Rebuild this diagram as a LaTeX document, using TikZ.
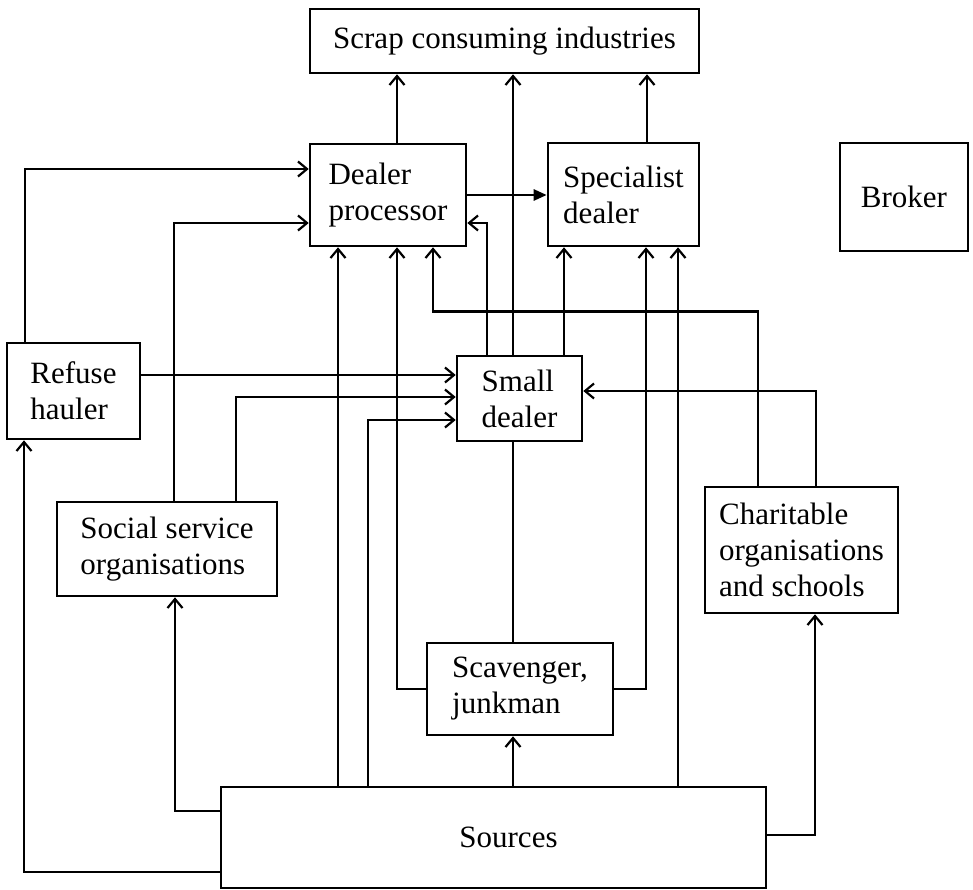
\documentclass[tikz,border=0pt]{standalone}
\usepackage{fontspec}
\setmainfont{Liberation Serif}
\usetikzlibrary{arrows.meta}
\begin{document}
\begin{tikzpicture}[x=1pt,y=-1pt,
  line width=2.6pt,
  box/.style={draw, rectangle, inner sep=0pt, align=left,
    font=\fontsize{31}{36}\selectfont},
  arr/.style={-{Straight Barb[length=9pt,width=15pt,line width=2.2pt]}},
  farr/.style={-{Triangle[length=13pt,width=11pt]}}]
\useasboundingbox (0,0) rectangle (973,890);

% boxes
\node[box, minimum width=389pt, minimum height=64pt] (scrap) at (504.5,41) {Scrap consuming industries};
\node[box, minimum width=156pt, minimum height=102pt] (dealer) at (388,195) {Dealer\\processor};
\node[box, minimum width=151pt, minimum height=103pt] (spec) at (623.5,194.5) {Specialist\\dealer};
\node[box, minimum width=128pt, minimum height=108pt] (broker) at (904,197) {Broker};
\node[box, minimum width=133pt, minimum height=96pt] (refuse) at (73.5,391) {Refuse\\hauler};
\node[box, minimum width=125pt, minimum height=85pt] (small) at (519.5,398.5) {Small\\dealer};
\node[box, minimum width=220pt, minimum height=94pt] (social) at (167,549) {Social service\\organisations};
\node[box, minimum width=193pt, minimum height=126pt] (charit) at (801.5,550) {Charitable\\organisations\\and schools};
\node[box, minimum width=186pt, minimum height=92pt] (scav) at (520,689) {Scavenger,\\junkman};
\node[box, minimum width=545pt, minimum height=101pt] (sources) at (493.5,837.5) {\hspace*{30pt}Sources};

% into scrap consuming industries
\draw[arr] ([xshift=9pt]dealer.north) -- ([xshift=9pt]dealer.north |- scrap.south);
\draw[arr] ([xshift=-6.5pt]small.north) -- ([xshift=-6.5pt]small.north |- scrap.south);
\draw[arr] ([xshift=23.5pt]spec.north) -- ([xshift=23.5pt]spec.north |- scrap.south);

% dealer processor to specialist dealer
\draw[farr] (dealer.east) -- (dealer.east -| spec.west);

% into dealer processor
\draw[arr] ([xshift=-48.5pt]refuse.north) |- ([yshift=26pt]dealer.west);
\draw[arr] ([xshift=7pt]social.north) |- ([yshift=-28pt]dealer.west);
\draw[arr] ([xshift=-155.5pt]sources.north) -- ([xshift=-155.5pt]sources.north |- dealer.south);
\draw[arr] (scav.west) -| ([xshift=9pt]dealer.south);
\draw[arr] ([xshift=-43.5pt]charit.north) -- ++(0,-174) -| ([xshift=45pt]dealer.south);
\draw[arr] ([xshift=-32.5pt]small.north) |- ([yshift=-28pt]dealer.east);

% into specialist dealer
\draw[arr] ([xshift=44.5pt]small.north) -- ([xshift=44.5pt]small.north |- spec.south);
\draw[arr] (scav.east) -| ([xshift=22.5pt]spec.south);
\draw[arr] ([xshift=184.5pt]sources.north) -- ([xshift=184.5pt]sources.north |- spec.south);

% into small dealer
\draw[arr] ([yshift=16pt]refuse.east) -- ([yshift=16pt]refuse.east -| small.west);
\draw[arr] ([xshift=69pt]social.north) |- ([yshift=1.5pt]small.west);
\draw[arr] ([xshift=-125.5pt]sources.north) |- ([yshift=-21.5pt]small.west);
\draw[arr] ([xshift=14.5pt]charit.north) |- ([yshift=7.5pt]small.east);
\draw ([xshift=-7pt]scav.north) -- ([xshift=-7pt]scav.north |- small.south);

% out of sources
\draw[arr] ([xshift=19.5pt]sources.north) -- ([xshift=19.5pt]sources.north |- scav.south);
\draw[arr] ([yshift=26.5pt]sources.west) -| ([xshift=8pt]social.south);
\draw[arr] ([yshift=-34.5pt]sources.west) -| ([xshift=-49.5pt]refuse.south);
\draw[arr] ([yshift=2.5pt]sources.east) -| ([xshift=13.5pt]charit.south);
\end{tikzpicture}
\end{document}
